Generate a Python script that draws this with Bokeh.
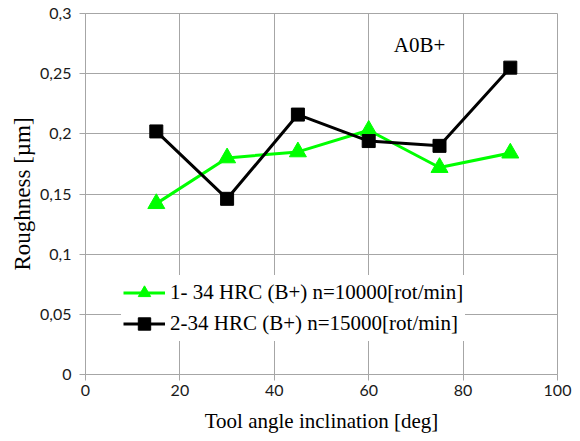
from bokeh.plotting import figure
from bokeh.models import (Legend, LegendItem, Label, FixedTicker,
                          CustomJSTickFormatter, Range1d)
from bokeh.embed import file_html
from bokeh.resources import INLINE

# Tool inclination angle [deg]
angle = [15, 30, 45, 60, 75, 90]
# Roughness [um] for the two spindle speeds
rough_n10000 = [0.142, 0.180, 0.185, 0.203, 0.172, 0.184]
rough_n15000 = [0.202, 0.146, 0.216, 0.194, 0.190, 0.255]

series_labels = ["1- 34 HRC (B+) n=10000[rot/min]",
                 "2-34 HRC (B+) n=15000[rot/min]"]
x_ticks = [0, 20, 40, 60, 80, 100]
y_ticks = [0, 0.05, 0.1, 0.15, 0.2, 0.25, 0.3]

GRID = "#a6a6a6"
SERIF = "Liberation Serif"
SANS = "Lato"

p = figure(width=580, height=441, output_backend="svg", toolbar_location=None,
           x_range=Range1d(0, 100), y_range=Range1d(0, 0.3),
           min_border_left=85, min_border_right=23, min_border_top=13,
           min_border_bottom=67)

p.outline_line_color = GRID
p.outline_line_width = 1

for ax in (p.xaxis, p.yaxis):
    ax.axis_line_color = GRID
    ax.major_tick_line_color = GRID
    ax.minor_tick_line_color = None
    ax.major_tick_in = 0
    ax.major_tick_out = 6
    ax.major_label_text_font = SANS
    ax.major_label_text_font_size = "16px"
    ax.major_label_text_color = "#1a1a1a"
    ax.axis_label_text_font = SERIF
    ax.axis_label_text_font_style = "normal"
    ax.axis_label_text_color = "#000000"

p.xaxis.axis_label_text_font_size = "21px"
p.yaxis.axis_label_text_font_size = "23px"
p.xaxis.ticker = FixedTicker(ticks=x_ticks)
p.yaxis.ticker = FixedTicker(ticks=y_ticks)
p.yaxis.formatter = CustomJSTickFormatter(code="""
    return tick.toFixed(2).replace(/0+$/, '').replace(/\\.$/, '').replace('.', ',');
""")
p.xaxis.axis_label = "Tool angle inclination [deg]"
p.yaxis.axis_label = "Roughness [\u00b5m]"
p.xaxis.major_label_standoff = 4
p.yaxis.major_label_standoff = 8
p.xaxis.axis_label_standoff = 10
p.yaxis.axis_label_standoff = 2

p.grid.grid_line_color = GRID
p.grid.grid_line_width = 1

l1 = p.line(angle, rough_n10000, line_color="#00ff00", line_width=3)
m1 = p.scatter(angle, rough_n10000, marker="triangle", size=17,
               fill_color="#00ff00", line_color="#00ff00")
l2 = p.line(angle, rough_n15000, line_color="#000000", line_width=3)
m2 = p.scatter(angle, rough_n15000, marker="square", size=13,
               fill_color="#000000", line_color="#000000")

legend = Legend(items=[LegendItem(label=series_labels[0], renderers=[l1, m1]),
                       LegendItem(label=series_labels[1], renderers=[l2, m2])],
                location=(36, 33))
legend.background_fill_color = "white"
legend.background_fill_alpha = 1
legend.border_line_alpha = 0
legend.label_text_font = SERIF
legend.label_text_font_size = "21px"
legend.label_text_color = "#000000"
legend.glyph_width = 42
legend.glyph_height = 31
legend.label_height = 20
legend.label_standoff = 5
legend.spacing = 0
legend.padding = 2
legend.margin = 0
p.add_layout(legend, "center")

p.add_layout(Label(x=65.3, y=0.2742, text="A0B+", text_font=SERIF,
                   text_font_size="21px", text_baseline="middle",
                   text_color="#000000"))

open("out.html", "w").write(file_html(p, INLINE))
